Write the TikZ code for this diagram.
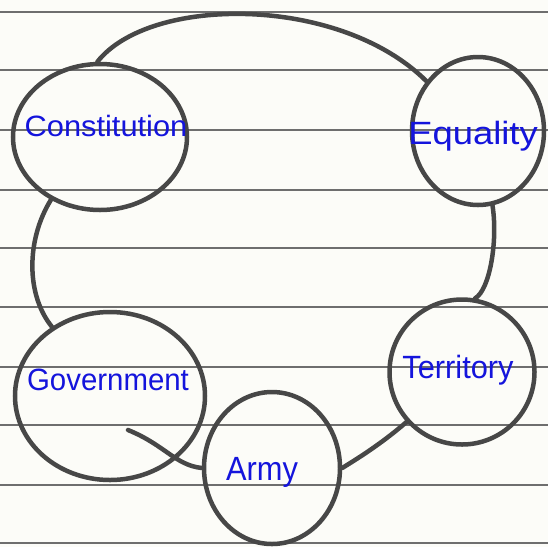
\documentclass[tikz,border=0pt]{standalone}
\usepackage{fontspec}
\setmainfont{Liberation Sans}
\usetikzlibrary{shapes.geometric}
\definecolor{paper}{HTML}{FCFCF8}
\definecolor{ruling}{HTML}{6E6E6E}
\definecolor{pencil}{HTML}{474747}
\definecolor{ink}{HTML}{1414DC}
\tikzset{
  rule/.style={draw=ruling, line width=1.6pt},
  bubble/.style={ellipse, draw=pencil, line width=4.5pt, inner sep=0pt},
  word/.style={text=ink, inner sep=0pt, font=\fontsize{28}{28}\selectfont},
  link/.style={draw=pencil, line width=4.5pt, line cap=round}
}
\begin{document}
\begin{tikzpicture}[x=1pt, y=-1pt]
  % paper and its ruled lines
  \fill[paper] (0,0) rectangle (548,547);
  \useasboundingbox (0,0) rectangle (548,547);
  \foreach \ry in {12,70,130,190,248,307,367,425,485,543}
    \draw[rule] (0,\ry) -- (548,\ry);

  % the five circles
  \node[bubble, minimum width=174pt, minimum height=146pt] (con) at (100,137) {};
  \node[bubble, minimum width=132pt, minimum height=148pt] (equ) at (478,131) {};
  \node[bubble, minimum width=145pt, minimum height=145pt] (ter) at (462,372) {};
  \node[bubble, minimum width=136pt, minimum height=152pt] (arm) at (272,468) {};
  \node[bubble, minimum width=190pt, minimum height=168pt] (gov) at (110,396) {};

  % their words
  \node[word] (conw) at (106,126) {\scalebox{1.1}[1.05]{Constitution}};
  \node[word] (equw) at (473,136) {\scalebox{1.3}[1.15]{Equality}};
  \node[word] (terw) at (458,370) {\scalebox{1.1}[1.15]{Territory}};
  \node[word] (govw) at (108,380) {\scalebox{1.05}[1.1]{Government}};
  \node[word] (armw) at (262,472) {\scalebox{1.1}[1.2]{Army}};

  \coordinate (govin) at (128,430);

  % links between them
  \draw[link] (con.92) .. controls (150,-5) and (340,-5) .. (equ.136);
  \draw[link] (equ.-79) .. controls (498,240) and (490,290) .. (ter.80);
  \draw[link] (ter.-138) .. controls (380,445) and (355,460) .. (arm.0);
  \draw[link] (govin) .. controls (165,445) and (175,465) .. (arm.180);
  \draw[link] (gov.130) .. controls (26,295) and (26,240) .. (con.-128);
\end{tikzpicture}
\end{document}
